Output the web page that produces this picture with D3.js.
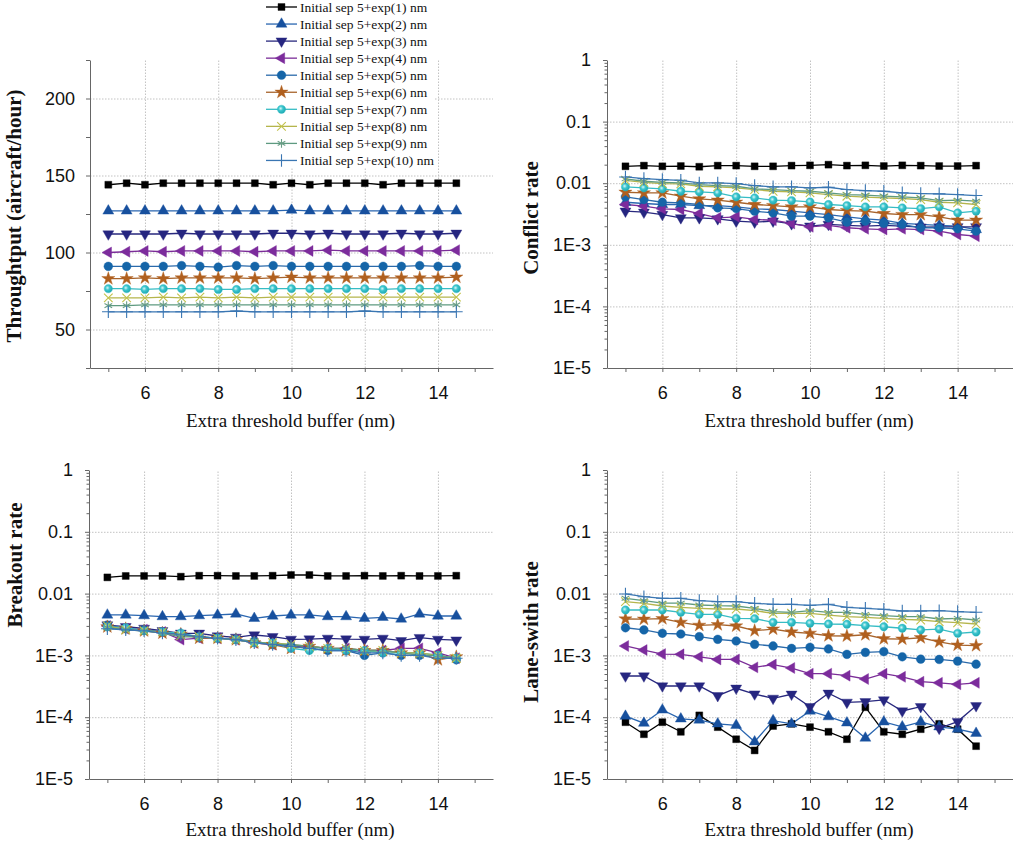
<!DOCTYPE html>
<html><head><meta charset="utf-8">
<script src="https://cdn.jsdelivr.net/npm/d3@7"></script>
<style>body{margin:0;background:#fff}svg{display:block}</style>
</head><body>
<script>
// ---------- DATA ----------
const xValues = [5, 5.5, 6, 6.5, 7, 7.5, 8, 8.5, 9, 9.5, 10, 10.5, 11, 11.5, 12, 12.5, 13, 13.5, 14, 14.5];
const seriesNames = ["Initial sep 5+exp(1) nm","Initial sep 5+exp(2) nm","Initial sep 5+exp(3) nm","Initial sep 5+exp(4) nm","Initial sep 5+exp(5) nm","Initial sep 5+exp(6) nm","Initial sep 5+exp(7) nm","Initial sep 5+exp(8) nm","Initial sep 5+exp(9) nm","Initial sep 5+exp(10) nm"];
const xTicks = [5, 6, 7, 8, 9, 10, 11, 12, 13, 14, 15];
const xLabelTicks = [6, 8, 10, 12, 14];
const throughputTicks = [25, 50, 75, 100, 125, 150, 175, 200, 225];
const throughputLabels = [50, 100, 150, 200];
const logTicks = [1, 0.1, 0.01, 1e-3, 1e-4, 1e-5];
const logTickLabels = ["1", "0.1", "0.01", "1E-3", "1E-4", "1E-5"];
const yTitles = ["Throughtput (aircraft/hour)", "Conflict rate", "Breakout rate", "Lane-swith rate"];
const xTitle = "Extra threshold buffer (nm)";

const throughput = [
  [144,145,144,145,145,145,145,145,145,144,145,144,145,145,145,144,145,145,145,145],
  [127,127,127,127,127,127,127,127,127,127,127.5,127,127,127,127,127,127,127,127,127],
  [112,112,112,112,112.5,112,112,112,112,112.5,112.5,112,112.5,112,112,112,112.5,112,112,112.5],
  [100,100.5,101,100.5,101,101,101,101,100.5,101,101,101,101.5,101,101,101,101,101,101,101.5],
  [91,91,91,91,91.5,91,90.5,91.5,91,91.5,91,91,91,91,91,91,91,91.5,91,91],
  [83,83,83.5,83,83.5,83.5,83.5,83.5,83,83.5,84,83.5,83.5,83.5,83.5,83.5,83.5,83.5,83.5,84],
  [76.5,76.5,76,76.5,76.5,76.5,76,76,76.5,76.5,76.5,76.5,76.5,76.5,76.5,76,76.5,76.5,76.5,76.5],
  [70.5,70.5,70.5,71,70.5,71,70.5,71,70.5,71,71,71,71,71,71,71,71,71,71,71],
  [65.5,65.5,66,66,66,66,66,66,66,66,66,66,66,66,66,66,66,66,66,66],
  [61.5,61.5,61.5,61.5,61.5,61.5,61.5,62,61.5,61.5,61.5,61.5,61.5,61.5,62,61.5,61.5,61.5,61.5,61.5]
];
const conflictRate = [
  [0.0188,0.0193,0.0188,0.019,0.0185,0.0193,0.0193,0.0188,0.0188,0.0193,0.0195,0.020,0.0193,0.0195,0.019,0.0195,0.0193,0.019,0.019,0.0193],
  [0.00491,0.00468,0.00451,0.00451,0.00434,0.00434,0.00413,0.00383,0.00374,0.00351,0.0033,0.0031,0.00285,0.00264,0.00251,0.00222,0.00214,0.00206,0.00201,0.00177],
  [0.00351,0.00338,0.0031,0.00274,0.00274,0.00264,0.00242,0.00233,0.00242,0.00219,0.00201,0.00214,0.00206,0.00201,0.00206,0.00201,0.00194,0.00196,0.00196,0.00196],
  [0.00451,0.00424,0.00383,0.00374,0.00322,0.00274,0.00285,0.00258,0.00251,0.00222,0.00196,0.00206,0.00189,0.00182,0.00177,0.00182,0.00177,0.00167,0.00147,0.00138],
  [0.006,0.00543,0.00491,0.0048,0.00451,0.00398,0.00388,0.00351,0.0033,0.00292,0.00292,0.00274,0.00233,0.00242,0.00222,0.00214,0.00189,0.00189,0.00182,0.00167],
  [0.00713,0.00696,0.00696,0.00615,0.00556,0.0053,0.00491,0.00451,0.00434,0.00413,0.00413,0.00374,0.0036,0.00351,0.00322,0.0031,0.0031,0.00285,0.00251,0.00251],
  [0.00871,0.00839,0.00808,0.0074,0.00722,0.00696,0.006,0.00578,0.0053,0.00523,0.00498,0.00451,0.00434,0.00413,0.00413,0.00398,0.00388,0.00413,0.0033,0.00351],
  [0.01115,0.01035,0.00985,0.00973,0.00892,0.00871,0.00839,0.00788,0.0074,0.00722,0.00696,0.00654,0.00615,0.00592,0.00578,0.00564,0.00543,0.00491,0.0048,0.00451],
  [0.01173,0.01075,0.01035,0.01009,0.00949,0.00914,0.00892,0.00808,0.00788,0.00759,0.0074,0.00696,0.00654,0.00638,0.00615,0.006,0.00578,0.00523,0.0053,0.0051],
  [0.01263,0.01186,0.01143,0.01115,0.01009,0.01009,0.00985,0.00914,0.00871,0.00871,0.00839,0.00859,0.00788,0.00759,0.0074,0.00696,0.00679,0.0067,0.00654,0.0063]
];
const breakoutRate = [
  [0.0183,0.0193,0.0193,0.0193,0.0188,0.0195,0.0195,0.0193,0.0193,0.0195,0.020,0.020,0.0193,0.0193,0.0195,0.0193,0.0195,0.0193,0.0193,0.0195],
  [0.00451,0.00451,0.0044,0.00424,0.00424,0.0044,0.00451,0.00468,0.00398,0.00434,0.00451,0.00451,0.00424,0.00424,0.00398,0.00413,0.00388,0.00468,0.00434,0.00434],
  [0.0031,0.00292,0.00274,0.00251,0.00228,0.00228,0.00206,0.00196,0.00214,0.00201,0.00182,0.00184,0.00189,0.00184,0.00182,0.00189,0.00173,0.00194,0.00182,0.00177],
  [0.0030,0.0027,0.0026,0.0024,0.0018,0.0019,0.0019,0.0018,0.0016,0.0015,0.0014,0.0014,0.0013,0.0013,0.0012,0.0012,0.0013,0.0013,0.0011,0.0009],
  [0.0031,0.0027,0.0026,0.0024,0.0022,0.0020,0.0019,0.0018,0.0017,0.0015,0.0014,0.0013,0.0012,0.0012,0.0010,0.0011,0.0010,0.0010,0.0010,0.00085],
  [0.0029,0.0027,0.0025,0.0023,0.0022,0.0019,0.0019,0.0018,0.0016,0.0015,0.0013,0.0014,0.0013,0.0012,0.0012,0.0012,0.0011,0.0011,0.00085,0.00095],
  [0.0029,0.0028,0.0025,0.0024,0.0023,0.0020,0.0019,0.0018,0.0016,0.0016,0.0013,0.0012,0.0013,0.0012,0.0012,0.0011,0.0011,0.0011,0.0010,0.0009],
  [0.0030,0.0026,0.0025,0.0024,0.0021,0.0020,0.0019,0.0018,0.0016,0.0016,0.0015,0.0014,0.0013,0.0013,0.0012,0.0012,0.0011,0.0011,0.0010,0.0009],
  [0.0028,0.0026,0.0025,0.0023,0.0020,0.0020,0.0019,0.0018,0.0017,0.0015,0.0015,0.0014,0.0013,0.0013,0.0012,0.0012,0.0011,0.0010,0.0010,0.0009],
  [0.0027,0.0026,0.0025,0.0023,0.0022,0.0020,0.0019,0.0018,0.0016,0.0015,0.0014,0.0013,0.0012,0.0012,0.0011,0.0011,0.0010,0.0010,0.0009,0.0009]
];
const laneSwitchRate = [
  [8.3e-5,5.3e-5,8.3e-5,5.8e-5,1.07e-4,6.9e-5,4.4e-5,2.9e-5,7.2e-5,7.8e-5,6.9e-5,5.8e-5,4.4e-5,1.45e-4,5.8e-5,5.3e-5,6.4e-5,7.8e-5,6.4e-5,3.4e-5],
  [1.04e-4,8.0e-5,1.31e-4,9.4e-5,9.0e-5,7.8e-5,7.4e-5,4.0e-5,8.8e-5,7.8e-5,1.26e-4,1.02e-4,8.1e-5,4.6e-5,8.4e-5,7.0e-5,8.4e-5,7.0e-5,6.4e-5,5.5e-5],
  [4.64e-4,4.64e-4,3.2e-4,3.2e-4,3.2e-4,2.23e-4,2.94e-4,2.37e-4,2.02e-4,2.35e-4,1.48e-4,2.44e-4,1.74e-4,1.78e-4,1.9e-4,1.26e-4,1.48e-4,6.6e-5,8.5e-5,1.53e-4],
  [1.42e-3,1.22e-3,1.05e-3,1.04e-3,9.5e-4,8.6e-4,8.6e-4,6.4e-4,7.1e-4,6.25e-4,5.06e-4,5.06e-4,4.7e-4,4.15e-4,5.06e-4,4.5e-4,3.75e-4,3.6e-4,3.4e-4,3.6e-4],
  [2.8e-3,2.58e-3,2.28e-3,2.22e-3,2.01e-3,1.82e-3,1.71e-3,1.51e-3,1.42e-3,1.30e-3,1.35e-3,1.27e-3,1.04e-3,1.12e-3,1.15e-3,9.5e-4,8.7e-4,8.6e-4,8.1e-4,7.2e-4],
  [3.88e-3,3.86e-3,3.93e-3,3.43e-3,3.07e-3,3.14e-3,2.99e-3,2.51e-3,2.67e-3,2.39e-3,2.28e-3,2.08e-3,2.06e-3,2.16e-3,1.86e-3,1.84e-3,1.93e-3,1.65e-3,1.47e-3,1.44e-3],
  [5.43e-3,5.43e-3,5.43e-3,4.98e-3,4.62e-3,4.62e-3,3.98e-3,3.93e-3,3.43e-3,3.43e-3,3.31e-3,3.22e-3,3.19e-3,3.03e-3,2.91e-3,2.75e-3,2.58e-3,2.67e-3,2.28e-3,2.39e-3],
  [7.4e-3,6.96e-3,6.3e-3,6.0e-3,5.78e-3,5.63e-3,5.63e-3,5.29e-3,4.8e-3,4.8e-3,4.8e-3,4.5e-3,4.23e-3,4.13e-3,3.98e-3,3.84e-3,3.74e-3,3.51e-3,3.38e-3,3.22e-3],
  [8.4e-3,7.7e-3,7.0e-3,7.0e-3,6.54e-3,6.37e-3,6.3e-3,5.78e-3,5.1e-3,4.98e-3,5.29e-3,4.98e-3,4.98e-3,4.62e-3,4.39e-3,4.23e-3,4.23e-3,3.88e-3,3.98e-3,3.74e-3],
  [9.86e-3,8.9e-3,8.4e-3,8.4e-3,7.68e-3,7.4e-3,7.4e-3,6.96e-3,6.71e-3,6.71e-3,6.47e-3,6.71e-3,6.0e-3,5.78e-3,5.57e-3,5.23e-3,5.23e-3,5.29e-3,5.1e-3,4.98e-3]
];

// ---------- STYLE ----------
const lineColors = ["#000000","#2a66b0","#28287e","#7b2d98","#2a6aab","#a8642c","#36bcc4","#b5b54c","#5e9a80","#3a76b2"];
const markColors = ["#000000","#17509e","#262680","#7c2c9c","#1565a8","#b0601f","#2fc0c8","#c2c24a","#6a9e86","#3a76b2"];
const markers = [
  {t: d3.symbolSquare, s: 48, r: 0, fill: true},
  {t: d3.symbolTriangle, s: 52, r: 0, fill: true},
  {t: d3.symbolTriangle, s: 52, r: 180, fill: true},
  {t: d3.symbolTriangle, s: 52, r: -90, fill: true},
  {t: d3.symbolCircle, s: 60, r: 0, fill: true},
  {t: d3.symbolStar, s: 54, r: 0, fill: true},
  {t: d3.symbolCircle, s: 54, r: 0, fill: "grad"},
  {t: d3.symbolTimes, s: 50, r: 0, fill: false},
  {t: d3.symbolAsterisk, s: 54, r: 0, fill: false},
  {t: d3.symbolPlus, s: 54, r: 0, fill: false}
];

const W = 1013, H = 844;
const svg = d3.select("body").append("svg").attr("width", W).attr("height", H);
const defs = svg.append("defs");
const grad = defs.append("radialGradient").attr("id","cyanGrad").attr("cx","0.4").attr("cy","0.4").attr("r","0.6");
grad.append("stop").attr("offset","0%").attr("stop-color","#d8f6f8");
grad.append("stop").attr("offset","45%").attr("stop-color","#3cc6ce");
grad.append("stop").attr("offset","100%").attr("stop-color","#1fa8b2");

const panels = [
  {data: throughput, log: false, left: 90, right: 493, top: 60, bottom: 368, title: yTitles[0], titleX: 21, titleY: 216, xTitleY: 427},
  {data: conflictRate, log: true, left: 607, right: 1013, top: 60, bottom: 368, title: yTitles[1], titleX: 538, titleY: 218, xTitleY: 427},
  {data: breakoutRate, log: true, left: 89, right: 493, top: 470, bottom: 779, title: yTitles[2], titleX: 22, titleY: 565, xTitleY: 836},
  {data: laneSwitchRate, log: true, left: 607, right: 1013, top: 470, bottom: 779, title: yTitles[3], titleX: 538, titleY: 632, xTitleY: 836}
];

function drawMarker(sel, i, size) {
  const m = markers[i];
  const sym = d3.symbol().type(m.t).size(size || m.s);
  sel.append("path").attr("d", sym())
    .attr("transform", d => `translate(${d[0]},${d[1]}) rotate(${m.r})`)
    .attr("fill", m.fill === "grad" ? "url(#cyanGrad)" : (m.fill ? markColors[i] : "none"))
    .attr("stroke", markColors[i])
    .attr("stroke-width", m.fill ? 0.4 : 1.1);
}

panels.forEach(p => {
  const x = d3.scaleLinear().domain([4.5, 15.5]).range([p.left, p.right]);
  const y = p.log
    ? d3.scaleLog().domain([1e-5, 1]).range([p.bottom, p.top])
    : d3.scaleLinear().domain([25, 225]).range([p.bottom, p.top]);
  const g = svg.append("g");

  // grid
  g.append("g").attr("transform", `translate(0,${p.bottom})`)
    .call(d3.axisBottom(x).tickValues(xLabelTicks).tickSize(-(p.bottom - p.top)).tickFormat(""))
    .call(s => { s.select(".domain").remove(); s.selectAll("line").attr("stroke", "#c2c2c2").attr("stroke-dasharray", "1.5,1.5"); });
  const gridY = p.log ? [0.1, 0.01, 1e-3, 1e-4] : throughputLabels;
  g.append("g").attr("transform", `translate(${p.left},0)`)
    .call(d3.axisLeft(y).tickValues(gridY).tickSize(-(p.right - p.left)).tickFormat(""))
    .call(s => { s.select(".domain").remove(); s.selectAll("line").attr("stroke", "#c2c2c2").attr("stroke-dasharray", "1.5,1.5"); });

  // x axis
  const xa = g.append("g").attr("transform", `translate(0,${p.bottom})`)
    .call(d3.axisBottom(x).tickValues(xTicks).tickSize(4).tickSizeOuter(0).tickPadding(14)
      .tickFormat(d => xLabelTicks.includes(d) ? d : ""));
  xa.select(".domain").attr("stroke", "#666");
  xa.selectAll("line").attr("stroke", "#666");
  xa.selectAll("text").attr("font-family", "Liberation Sans, Arial, sans-serif").attr("font-size", 18).attr("fill", "#111");

  // y axis
  let ya;
  if (p.log) {
    ya = g.append("g").attr("transform", `translate(${p.left},0)`)
      .call(d3.axisLeft(y).tickValues(logTicks).tickSize(4).tickSizeOuter(0).tickPadding(12)
        .tickFormat((d, i) => logTickLabels[i]));
    const minor = [];
    logTicks.slice(1).forEach(dec => { [2,3,4,5,6,7,8,9].forEach(k => minor.push(dec * k)); });
    const ym = g.append("g").attr("transform", `translate(${p.left},0)`)
      .call(d3.axisLeft(y).tickValues(minor).tickSize(2.5).tickFormat(""));
    ym.select(".domain").remove();
    ym.selectAll("line").attr("stroke", "#666");
  } else {
    ya = g.append("g").attr("transform", `translate(${p.left},0)`)
      .call(d3.axisLeft(y).tickValues(throughputTicks).tickSize(4).tickSizeOuter(0).tickPadding(11)
        .tickFormat(d => throughputLabels.includes(d) ? d : ""));
  }
  ya.select(".domain").attr("stroke", "#666");
  ya.selectAll("line").attr("stroke", "#666");
  ya.selectAll("text").attr("font-family", "Liberation Sans, Arial, sans-serif").attr("font-size", 18).attr("fill", "#111");

  // titles
  g.append("text").attr("x", (p.left + p.right) / 2 - 1).attr("y", p.xTitleY)
    .attr("text-anchor", "middle").attr("font-family", "Liberation Serif, Times New Roman, serif")
    .attr("font-size", 19).attr("fill", "#111").text(xTitle);
  g.append("text").attr("transform", `translate(${p.titleX},${p.titleY}) rotate(-90)`)
    .attr("text-anchor", "middle").attr("font-family", "Liberation Serif, Times New Roman, serif")
    .attr("font-weight", "bold").attr("font-size", 21).attr("fill", "#111").text(p.title);

  // series
  const line = d3.line().x((d, j) => x(xValues[j])).y(d => y(d));
  p.data.forEach((vals, i) => {
    g.append("path").attr("d", line(vals)).attr("fill", "none")
      .attr("stroke", lineColors[i]).attr("stroke-width", 1.3);
  });
  p.data.forEach((vals, i) => {
    const pts = vals.map((v, j) => [x(xValues[j]), y(v)]);
    const ms = g.append("g").selectAll("g").data(pts).join("g");
    drawMarker(ms, i);
  });
});

// legend
const lg = svg.append("g");
lg.append("rect").attr("x", 262).attr("y", 0).attr("width", 172).attr("height", 168).attr("fill", "#fff");
seriesNames.forEach((name, i) => {
  const cy = 7 + i * 17.05;
  lg.append("line").attr("x1", 266).attr("x2", 297).attr("y1", cy).attr("y2", cy)
    .attr("stroke", lineColors[i]).attr("stroke-width", 1.3);
  const mg = lg.append("g").selectAll("g").data([[281.5, cy]]).join("g");
  drawMarker(mg, i);
  lg.append("text").attr("x", 300).attr("y", cy + 4.5)
    .attr("font-family", "Liberation Serif, Times New Roman, serif").attr("font-size", 13.5)
    .attr("fill", "#111").text(name);
});
</script>
</body></html>
